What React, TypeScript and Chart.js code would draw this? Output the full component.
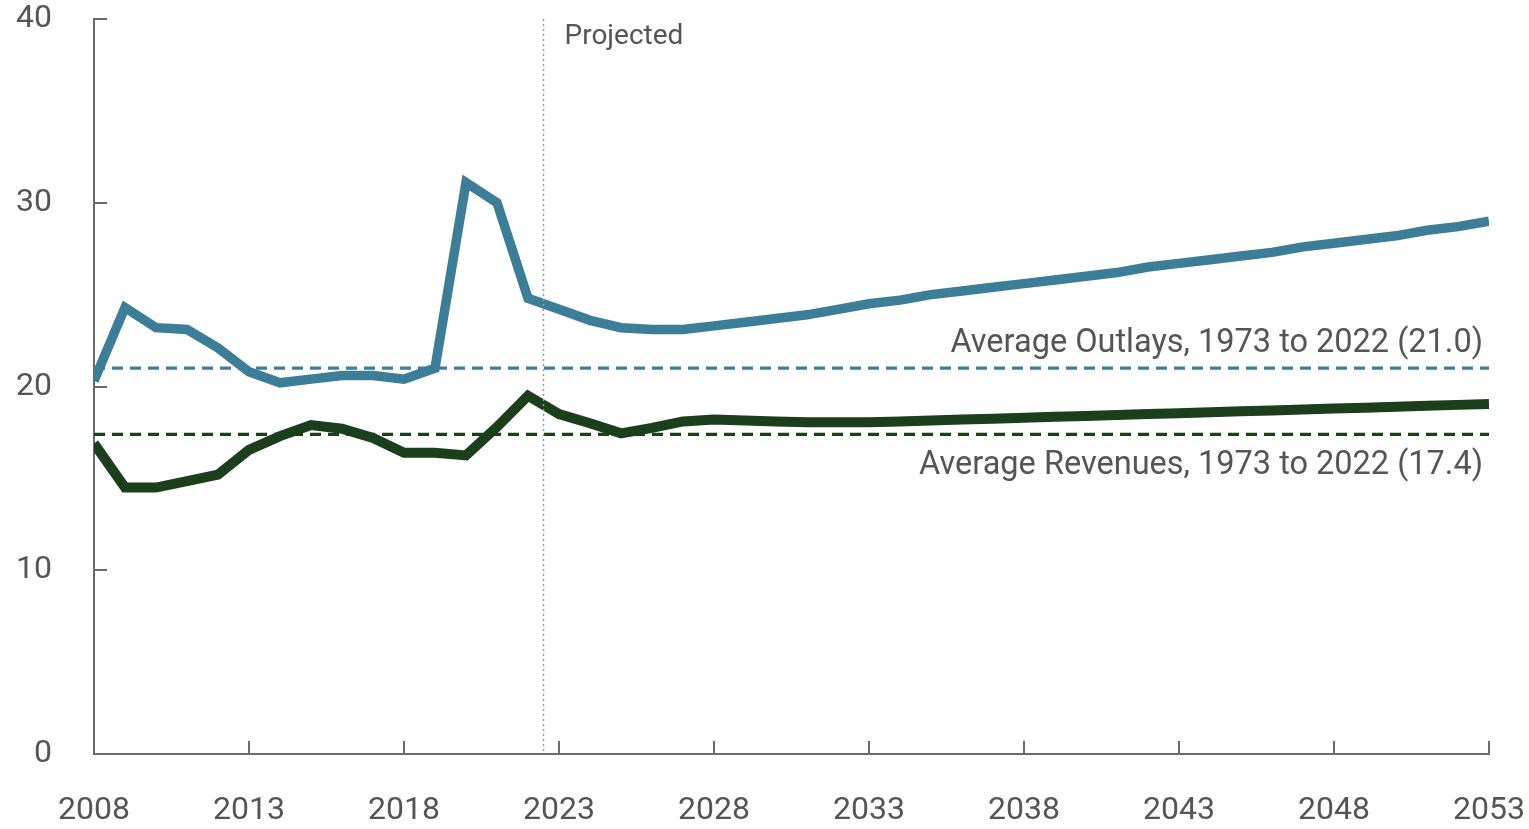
import React, { useEffect, useRef } from "react";
import { Chart, registerables } from "chart.js";

Chart.register(...registerables);

const years: number[] = [
  2008, 2009, 2010, 2011, 2012, 2013, 2014, 2015, 2016, 2017, 2018, 2019, 2020, 2021, 2022,
  2023, 2024, 2025, 2026, 2027, 2028, 2029, 2030, 2031, 2032, 2033, 2034, 2035, 2036, 2037,
  2038, 2039, 2040, 2041, 2042, 2043, 2044, 2045, 2046, 2047, 2048, 2049, 2050, 2051, 2052, 2053,
];

const outlays: number[] = [
  20.3, 24.3, 23.2, 23.1, 22.1, 20.8, 20.2, 20.4, 20.6, 20.6, 20.4, 21.0, 31.1, 30.0, 24.8,
  24.2, 23.6, 23.2, 23.1, 23.1, 23.3, 23.5, 23.7, 23.9, 24.2, 24.5, 24.7, 25.0, 25.2, 25.4,
  25.6, 25.8, 26.0, 26.2, 26.5, 26.7, 26.9, 27.1, 27.3, 27.6, 27.8, 28.0, 28.2, 28.5, 28.7, 29.0,
];

const revenues: number[] = [
  16.9, 14.5, 14.5, 14.85, 15.2, 16.55, 17.3, 17.9, 17.7, 17.2, 16.4, 16.4, 16.25, 17.8, 19.5,
  18.5, 18.0, 17.45, 17.75, 18.1, 18.2, 18.15, 18.1, 18.05, 18.05, 18.05, 18.1, 18.15, 18.2, 18.25,
  18.3, 18.35, 18.4, 18.45, 18.5, 18.55, 18.6, 18.65, 18.7, 18.75, 18.8, 18.85, 18.9, 18.95, 19.0, 19.05,
];

const avgOutlays = 21.0;
const avgRevenues = 17.4;
const avgOutlaysLabel = "Average Outlays, 1973 to 2022 (21.0)";
const avgRevenuesLabel = "Average Revenues, 1973 to 2022 (17.4)";
const projectedLabel = "Projected";
const projectedStart = 2022.5;

const xTicks: number[] = [2008, 2013, 2018, 2023, 2028, 2033, 2038, 2043, 2048, 2053];
const yTicks: number[] = [0, 10, 20, 30, 40];

const BLUE = "#3c7d97";
const GREEN = "#1b3f1d";
const TEXT = "#555555";
const AXIS = "#6b6b6b";
const FONT = "Roboto, 'Open Sans', sans-serif";

const overlayPlugin = {
  id: "overlay",
  afterDatasetsDraw(chart: any) {
    const { ctx, chartArea, scales } = chart;
    const xs = scales.x;
    const ys = scales.y;
    ctx.save();
    // inward tick marks
    ctx.strokeStyle = AXIS;
    ctx.lineWidth = 2;
    const tl = 13;
    xTicks.forEach((v) => {
      if (v === xTicks[0]) return;
      const px = Math.round(xs.getPixelForValue(v));
      ctx.beginPath();
      ctx.moveTo(px, chartArea.bottom);
      ctx.lineTo(px, chartArea.bottom - tl);
      ctx.stroke();
    });
    yTicks.forEach((v) => {
      if (v === yTicks[0]) return;
      const py = Math.round(ys.getPixelForValue(v));
      ctx.beginPath();
      ctx.moveTo(chartArea.left, py);
      ctx.lineTo(chartArea.left + tl, py);
      ctx.stroke();
    });
    // projected divider
    const pxp = xs.getPixelForValue(projectedStart);
    ctx.strokeStyle = "#9a9a9a";
    ctx.lineWidth = 1.5;
    ctx.setLineDash([2, 3]);
    ctx.beginPath();
    ctx.moveTo(pxp, chartArea.top);
    ctx.lineTo(pxp, chartArea.bottom);
    ctx.stroke();
    ctx.setLineDash([]);
    // texts
    ctx.fillStyle = TEXT;
    ctx.textBaseline = "middle";
    ctx.textAlign = "left";
    ctx.font = `28px ${FONT}`;
    ctx.fillText(projectedLabel, pxp + 21, 37);
    ctx.textAlign = "right";
    ctx.font = `32.5px ${FONT}`;
    const rx = chartArea.right - 6;
    ctx.fillText(avgOutlaysLabel, rx, ys.getPixelForValue(avgOutlays) - 24);
    ctx.fillText(avgRevenuesLabel, rx, ys.getPixelForValue(avgRevenues) + 32);
    ctx.restore();
  },
};

export default function App() {
  const canvasRef = useRef<HTMLCanvasElement | null>(null);

  useEffect(() => {
    if (!canvasRef.current) return;
    const pts = (vals: number[]) => years.map((y, i) => ({ x: y, y: vals[i] }));
    const flat = (v: number) => [
      { x: years[0], y: v },
      { x: years[years.length - 1], y: v },
    ];
    const chart = new Chart(canvasRef.current, {
      type: "line",
      data: {
        datasets: [
          {
            label: "Outlays",
            data: pts(outlays),
            borderColor: BLUE,
            borderWidth: 9.5,
            pointRadius: 0,
            tension: 0,
            borderJoinStyle: "miter",
            borderCapStyle: "butt",
          },
          {
            label: "Revenues",
            data: pts(revenues),
            borderColor: GREEN,
            borderWidth: 10,
            pointRadius: 0,
            tension: 0,
            borderJoinStyle: "miter",
          },
          {
            label: "Average Outlays",
            data: flat(avgOutlays),
            borderColor: BLUE,
            borderWidth: 3.2,
            borderDash: [11, 7],
            pointRadius: 0,
          },
          {
            label: "Average Revenues",
            data: flat(avgRevenues),
            borderColor: GREEN,
            borderWidth: 3.2,
            borderDash: [11, 7],
            pointRadius: 0,
          },
        ],
      },
      options: {
        animation: false,
        responsive: false,
        maintainAspectRatio: false,
        layout: { padding: { top: 19, right: 40, left: 0, bottom: 0 } },
        plugins: { legend: { display: false }, tooltip: { enabled: false } },
        scales: {
          x: {
            type: "linear",
            min: 2008,
            max: 2053,
            afterBuildTicks: (s: any) => {
              s.ticks = xTicks.map((v) => ({ value: v }));
            },
            afterFit: (s: any) => {
              s.height = 75;
              s.paddingLeft = 0;
              s.paddingRight = 0;
            },
            grid: { display: false, drawTicks: false },
            border: { display: true, color: AXIS, width: 2 },
            ticks: {
              padding: 38,
              color: TEXT,
              font: { family: FONT, size: 32 },
              maxRotation: 0,
              autoSkip: false,
              callback: (v: any) => String(v),
            },
          },
          y: {
            type: "linear",
            min: 0,
            max: 40,
            afterBuildTicks: (s: any) => {
              s.ticks = yTicks.map((v) => ({ value: v }));
            },
            afterFit: (s: any) => {
              s.width = 94;
              s.paddingTop = 0;
              s.paddingBottom = 0;
            },
            grid: { display: false, drawTicks: false },
            border: { display: true, color: AXIS, width: 2 },
            ticks: {
              padding: 42,
              color: TEXT,
              font: { family: FONT, size: 32 },
              callback: (v: any) => String(v),
            },
          },
        },
      },
      plugins: [overlayPlugin],
    });
    return () => chart.destroy();
  }, []);

  return (
    <div style={{ position: "absolute", left: 0, top: 0, width: 1529, height: 829, background: "#fff" }}>
      <canvas ref={canvasRef} width={1529} height={829} style={{ display: "block" }} />
    </div>
  );
}
